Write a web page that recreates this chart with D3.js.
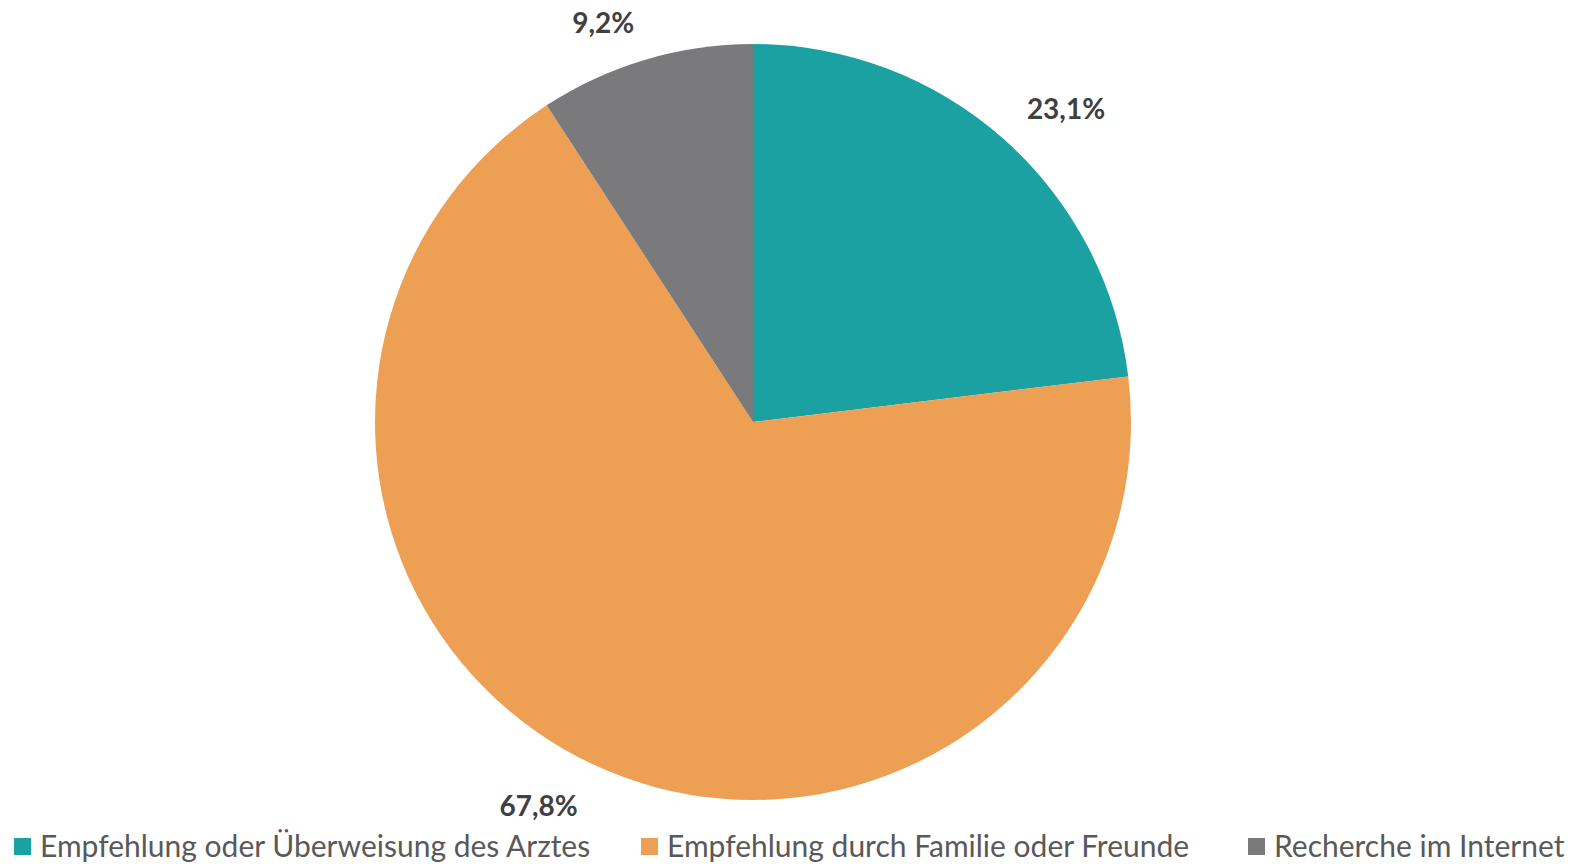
<!DOCTYPE html>
<html><head><meta charset="utf-8">
<script src="https://cdn.jsdelivr.net/npm/d3@7"></script>
<style>body{margin:0;background:#fff}svg{display:block}</style>
</head><body>
<svg id="c" width="1580" height="864"></svg>
<script>
const categories = ["Empfehlung oder Überweisung des Arztes", "Empfehlung durch Familie oder Freunde", "Recherche im Internet"];
const values = [23.1, 67.8, 9.2];
const labels = ["23,1%", "67,8%", "9,2%"];
const colors = ["#1BA1A2", "#ED9F54", "#7A797B"];

const svg = d3.select("#c");
const cx = 753, cy = 422, r = 378;
const g = svg.append("g").attr("transform", `translate(${cx},${cy})`);
const pie = d3.pie().sort(null).value(d => d)(values);
const arc = d3.arc().innerRadius(0).outerRadius(r);
g.selectAll("path").data(pie).join("path").attr("d", arc).attr("fill", (d,i) => colors[i]);

// outside-end labels: box touches a point just beyond the rim
const R = 410;
g.selectAll("text.lbl").data(pie).join("text").attr("class","lbl")
  .attr("text-anchor","middle")
  .attr("font-family","Lato, sans-serif").attr("font-weight","bold").attr("font-size",28)
  .attr("fill","#404040").text((d,i)=>labels[i])
  .each(function(d){
    const a = (d.startAngle + d.endAngle)/2;
    const px = R*Math.sin(a), py = -R*Math.cos(a);
    const w = this.getComputedTextLength(), h = 18;
    const bx = px + Math.sign(Math.sin(a))*(w/2 + 2);
    const by = py + Math.sign(-Math.cos(a))*h/2;
    d3.select(this).attr("x", bx).attr("y", by + 13);
  });

const legX = [14, 641, 1248];
const lg = svg.append("g");
categories.forEach((c,i) => {
  lg.append("rect").attr("x", legX[i]).attr("y", 838).attr("width",17).attr("height",17).attr("fill",colors[i]);
  lg.append("text").attr("x", legX[i]+26).attr("y", 857).attr("font-family","Lato, sans-serif")
    .attr("font-size",30).attr("fill","#595959").text(c);
});
</script>
</body></html>
